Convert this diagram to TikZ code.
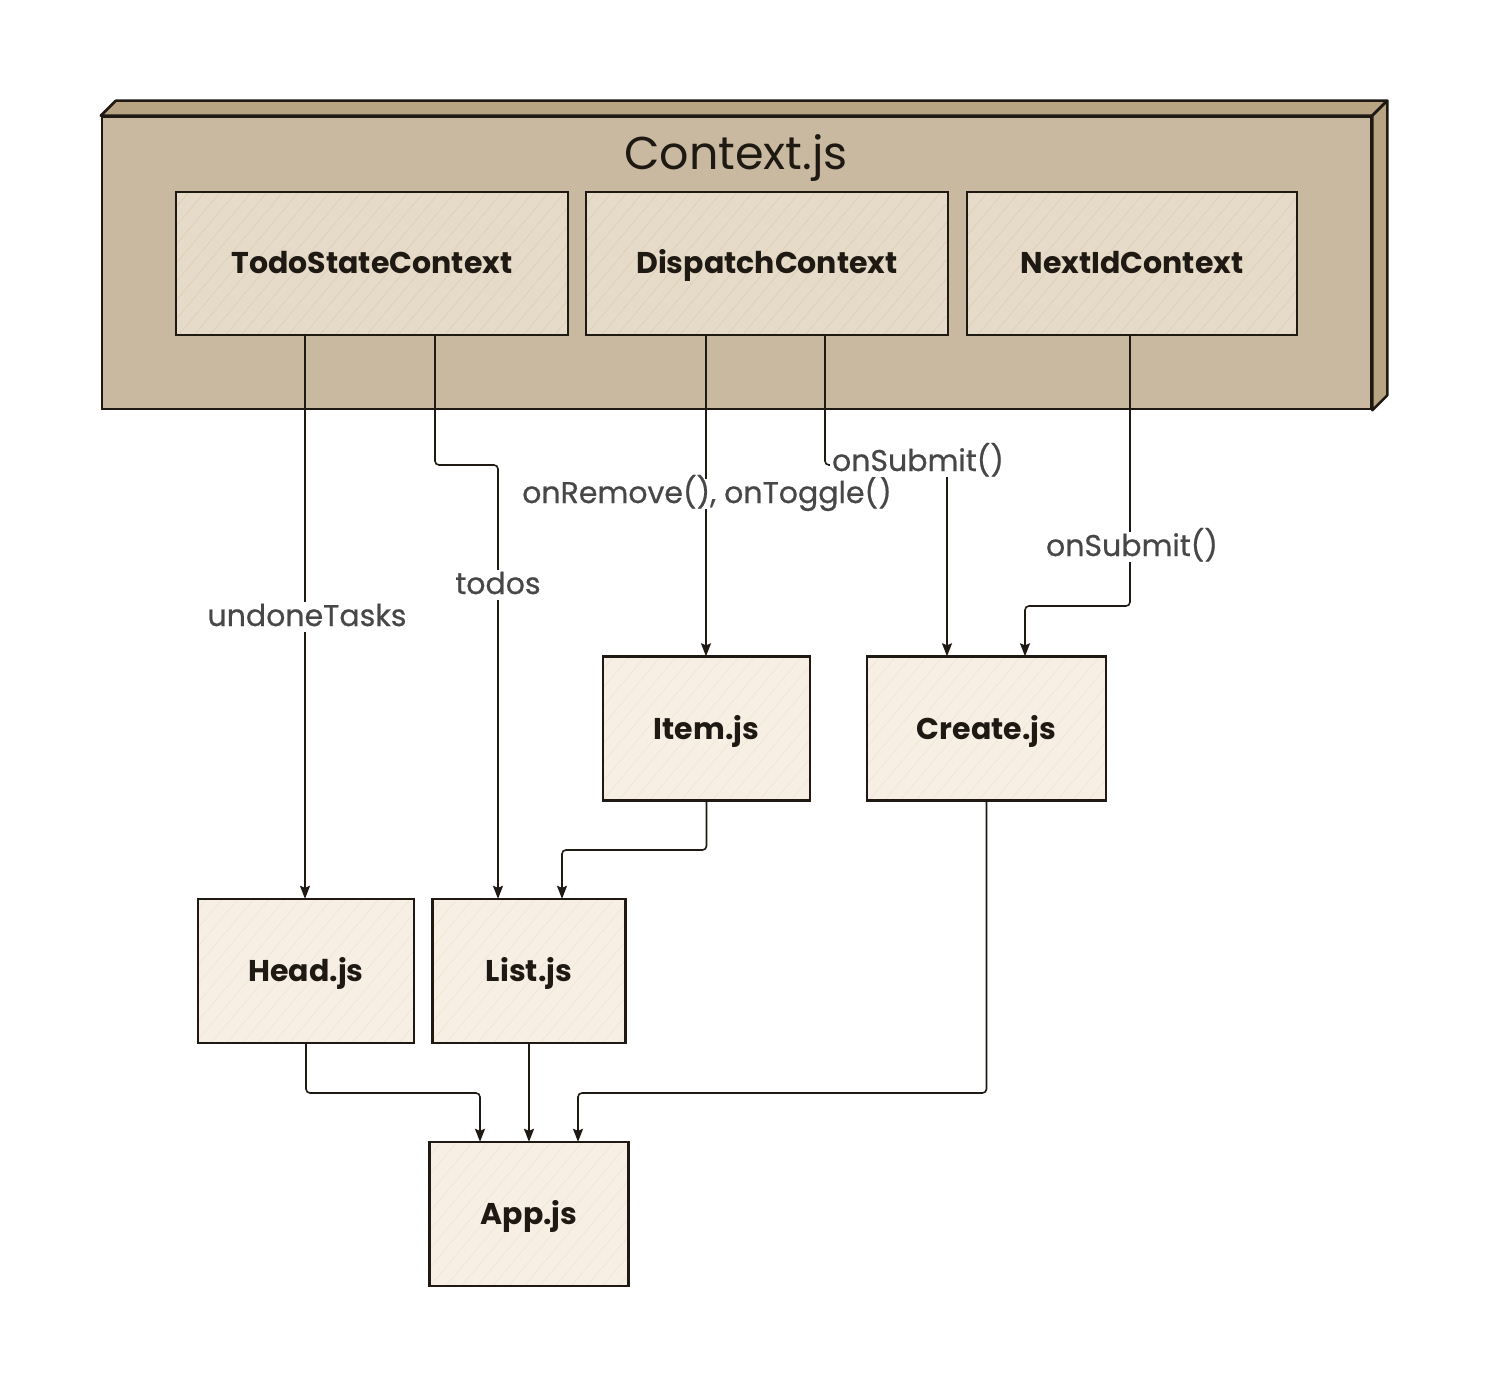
\documentclass[tikz,border=0pt]{standalone}
\usepackage{fontspec}
\setmainfont{Poppins}
\newfontfamily\flowfont{Poppins}[FakeBold=0.6]
\usetikzlibrary{arrows.meta,patterns.meta}
\definecolor{ink}{HTML}{1E1912}
\definecolor{ctxfront}{HTML}{C9B9A0}
\definecolor{ctxside}{HTML}{B8A482}
\definecolor{ctxfill}{HTML}{E6DAC8}
\definecolor{filefill}{HTML}{F7EFE4}
\definecolor{hatch}{HTML}{DDCCB0}
\definecolor{lbltext}{HTML}{474747}
\begin{document}
\begin{tikzpicture}[x=1pt,y=-1pt,
  ctxpart/.style={fill=ctxfill, minimum width=#1,
    minimum height=143pt, inner sep=0pt, text=ink,
    text height=22pt, text depth=1pt,
    font=\fontsize{30}{34}\selectfont\bfseries,
    postaction={pattern={Lines[angle=50,distance=12pt,line width=0.5pt]}, pattern color=hatch},
    postaction={draw=ink, line width=2.7pt}},
  filebox/.style={fill=filefill, minimum width=#1,
    minimum height=144pt, inner sep=0pt, text=ink,
    text height=22pt, text depth=1pt,
    font=\fontsize{30}{34}\selectfont\bfseries,
    postaction={pattern={Lines[angle=50,distance=12pt,line width=0.5pt]}, pattern color=hatch!35!filefill},
    postaction={draw=ink, line width=2.7pt}},
  conn/.style={draw=ink, line width=1.6pt, rounded corners=4pt,
    -{Stealth[length=13pt,width=10pt,inset=2pt]}},
  flowlabel/.style={fill=white, inner sep=2pt, text=lbltext,
    text height=22pt, text depth=4pt,
    font=\fontsize{30}{34}\selectfont\flowfont},
]
\useasboundingbox (0,0) rectangle (1488,1388);

% Context.js container: front face plus top and right faces
\node[draw=ink, line width=2.5pt, fill=ctxfront, minimum width=1269pt,
      minimum height=292pt, inner sep=0pt] (ctx) at (736.5,263) {};
\draw[draw=ink, line width=2.5pt, fill=ctxside, line join=round]
  (ctx.north west) -- ++(15,-15) -- ([shift={(15,-15)}]ctx.north east) -- (ctx.north east) -- cycle;
\draw[draw=ink, line width=2.5pt, fill=ctxside, line join=round]
  (ctx.north east) -- ++(15,-15) -- ([shift={(15,-15)}]ctx.south east) -- (ctx.south east) -- cycle;
\node[text=ink, font=\fontsize{46}{52}\selectfont] (title) at (736,158) {Context.js};

% contexts
\node[ctxpart=392pt] (tsc)  at (372,263.5)  {TodoStateContext};
\node[ctxpart=362pt] (disp) at (767,263.5)  {DispatchContext};
\node[ctxpart=330pt] (nid)  at (1132,263.5) {NextIdContext};

% components
\node[filebox=207pt] (item)   at (706.5,728.5) {Item.js};
\node[filebox=239pt] (create) at (986.5,728.5) {Create.js};
\node[filebox=216pt] (head)   at (306,971)     {Head.js};
\node[filebox=193pt] (list)   at (529,971)     {List.js};
\node[filebox=199pt] (app)    at (529,1214)    {App.js};

% routing columns and bends
\coordinate (xu) at (305,0);
\coordinate (xt) at (435,0);
\coordinate (xr) at (706,0);
\coordinate (xs) at (825,0);
\coordinate (xn) at (1130,0);
\coordinate (bt) at (498,465);
\coordinate (bs) at (947,465);
\coordinate (bn) at (1025,606);
\coordinate (bi) at (562,850);
\coordinate (bh) at (480,1093);
\coordinate (bc) at (578,1093);

% connectors
\draw[conn] (tsc.south -| xu) -- (head.north -| xu);
\draw[conn] (tsc.south -| xt) |- (bt) -- (list.north -| bt);
\draw[conn] (disp.south -| xr) -- (item.north -| xr);
\draw[conn] (disp.south -| xs) |- (bs) -- (create.north -| bs);
\draw[conn] (nid.south -| xn) |- (bn) -- (create.north -| bn);
\draw[conn] (item.south) |- (bi) -- (list.north -| bi);
\draw[conn] (head.south) |- (bh) -- (app.north -| bh);
\draw[conn] (list.south) -- (app.north);
\draw[conn] (create.south) |- (bc) -- (app.north -| bc);

% connector labels
\node[flowlabel] (lu) at (307,617) {undoneTasks};
\node[flowlabel] (lt) at (498,585) {todos};
\node[flowlabel] (lr) at (707,494) {onRemove(), onToggle()};
\node[flowlabel] (ls) at (918,462) {onSubmit()};
\node[flowlabel] (ln) at (1132,547) {onSubmit()};
\end{tikzpicture}
\end{document}
